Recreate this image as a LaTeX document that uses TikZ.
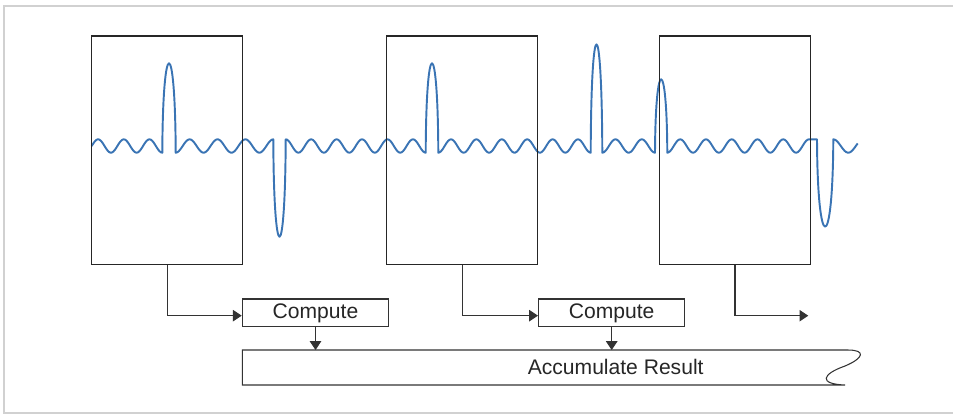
\documentclass[tikz,border=0pt]{standalone}
\usepackage{fontspec}
\setmainfont{Liberation Sans}
\usetikzlibrary{arrows.meta}
\definecolor{sigblue}{HTML}{3A74B4}

\begin{document}
\begin{tikzpicture}[x=0.02cm,y=-0.02cm,
        declare function={ripple(\x,\xs,\per)=146+6.7*cos((\x-\xs)/\per*360);},
        window/.style={draw=black!85,line width=0.75pt,minimum width=3.02cm,minimum height=4.566cm,inner sep=0pt},
        task/.style={draw=black!80,line width=0.6pt,minimum width=2.93cm,minimum height=0.554cm,inner sep=0pt,text=black!85,font=\fontsize{12}{14}\selectfont},
        flow/.style={draw=black!80,line width=0.6pt,-{Triangle[length=5pt,width=6.5pt]}},
        signal/.style={draw=sigblue,line width=1.1pt,line join=round}]
    \useasboundingbox (0,0) rectangle (953,414);
    % Outer frame, open on the right
    \draw[black!18,line width=1.2pt] (953,6) -- (4,6) -- (4,413) -- (953,413);
    % Signal: ripple with spikes
    \draw[signal]
        plot[domain=91.7:162.3,samples=50] (\x,{ripple(\x,85.28,25.67)})
        .. controls (162.8,33.5) and (175.2,33.5) .. (175.7,152.7)
        -- plot[domain=175.7:273.3,samples=70] (\x,{ripple(\x,175.7,27.89)})
        .. controls (273.8,269.2) and (285.2,269.2) .. (285.7,139.3)
        -- plot[domain=285.7:425.7,samples=100] (\x,{ripple(\x,272.98,25.45)})
        .. controls (426.2,33.5) and (437.8,33.5) .. (438.3,152.7)
        -- plot[domain=438.3:590.7,samples=110] (\x,{ripple(\x,438.3,25.4)})
        .. controls (591.2,8.2) and (601.8,8.2) .. (602.3,152.7)
        -- plot[domain=602.3:655,samples=40] (\x,{ripple(\x,602.3,26.35)})
        .. controls (655.5,54.8) and (666.8,54.8) .. (667.3,152.7)
        -- plot[domain=667.3:809,samples=100] (\x,{ripple(\x,667.3,25.76)})
        -- (817,139.3)
        .. controls (817.5,255.8) and (832.8,255.8) .. (833.3,139.3)
        -- plot[domain=833.3:857.7,samples=20] (\x,{ripple(\x,818.3,30)});
    % Windows over the signal
    \node[window] (box1) at (167.2,150.15) {};
    \node[window] (box2) at (462.2,150.15) {};
    \node[window] (box3) at (735,150.15) {};
    % Compute steps
    \node[task] (comp1) at (315.5,312.85) {Compute};
    \node[task] (comp2) at (611.7,312.85) {Compute};
    \coordinate (out3) at (808.3,315.7);
    % Accumulator strip with torn right edge
    \coordinate (acc) at (242.3,350);
    \draw[black!80,line width=0.6pt] (acc) -- (848,350)
        .. controls (866,350) and (864,358) .. (845,366)
        .. controls (822,374) and (818,384) .. (845,385) -- (242.3,385) -- cycle;
    \node[text=black!85,font=\fontsize{12}{14}\selectfont] (acctext) at (615.7,367.3) {Accumulate Result};
    % Connectors
    \draw[flow] (box1.south) |- ([yshift=-1.6pt]comp1.west);
    \draw[flow] (box2.south) |- ([yshift=-1.6pt]comp2.west);
    \draw[flow] (box3.south) |- (out3);
    \draw[flow] (comp1.south) -- (comp1.south |- acc);
    \draw[flow] (comp2.south) -- (comp2.south |- acc);
\end{tikzpicture}
\end{document}
